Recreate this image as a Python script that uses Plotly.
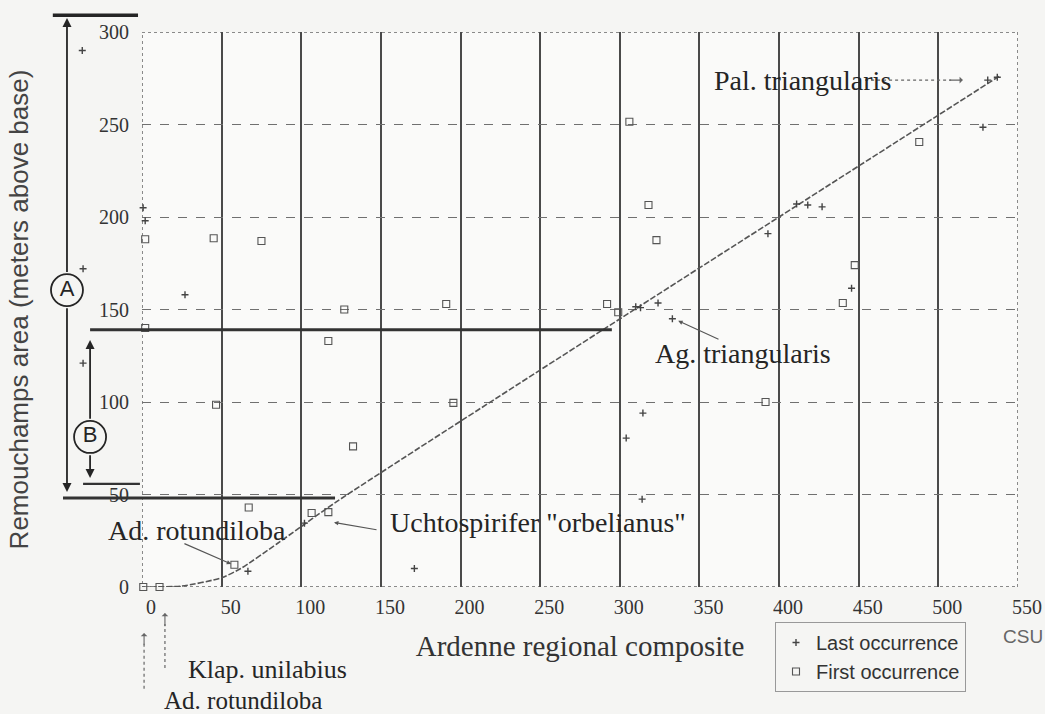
import plotly.graph_objects as go

# Ardenne regional composite (CSU) against Remouchamps section height (m)
first_x = [0.8, 11, 2, 45, 75, 2, 46.5, 58, 67, 106.5, 117, 117, 127, 132.5,
           191, 195.5, 292, 299, 306, 318, 323, 391.5, 440, 447.5, 488]
first_y = [0, 0, 188, 188.5, 187, 140, 98.5, 12, 43, 40, 40.5, 133, 150, 76,
           153, 99.5, 153, 148.5, 251.5, 206.5, 187.5, 100, 153.5, 174, 240.5]

last_x = [-37.5, -37, -37, 0.7, 2, 27, 66.5, 102, 171, 304, 314.5, 314, 310,
          313, 324, 333, 393, 411, 418, 427, 445.5, 528, 531, 537]
last_y = [290, 172, 121, 205, 198, 158, 8.5, 34.5, 10, 80.5, 94, 47.5, 151.5,
          151, 153.5, 145, 191, 207, 206.5, 205.5, 161.5, 248.5, 274, 275.5]

# line of correlation
loc_x = [0, 25, 50, 62, 85, 122, 538]
loc_y = [0, 0.5, 5, 10, 23.5, 46, 276]

x_ticks = [0, 50, 100, 150, 200, 250, 300, 350, 400, 450, 500, 550]
y_ticks = [0, 50, 100, 150, 200, 250, 300]

# section intervals A and B (metres) and the levels tied to the composite
level_top = 309
level_mid = 139
level_low = 48.1
level_b = 55.7

W, H = 1045, 714
ML, MR, MT, MB = 142, 27, 32, 127
XMAX, YMAX = 550, 300
KX = (W - ML - MR) / XMAX
KY = (H - MT - MB) / YMAX

PAPER = "#f5f5f3"
INK = "#252525"
SERIF = "Liberation Serif"
SANS = "Liberation Sans"

# x2/y2 span the whole figure with the same units as x/y, so marks and
# notes beside the frame share the composite/metre scale
X2 = dict(xaxis="x2", yaxis="y2")

fig = go.Figure()

fig.add_trace(go.Scatter(
    x=loc_x, y=loc_y, mode="lines", showlegend=False, hoverinfo="skip",
    line=dict(color="#555", width=1.6, dash="6px,2px", shape="spline", smoothing=0.6),
))

fig.add_trace(go.Scatter(
    x=last_x, y=last_y, mode="markers", name="Last occurrence", **X2,
    marker=dict(symbol="cross-thin", size=5, line=dict(color="#444", width=1.4)),
))
fig.add_trace(go.Scatter(
    x=first_x, y=first_y, mode="markers", name="First occurrence", **X2,
    marker=dict(symbol="square-open", size=7, color="#555", line=dict(color="#555", width=1.1)),
))

# circled interval labels
fig.add_trace(go.Scatter(
    x=[-47.1, -32.6], y=[160.5, 81.1], mode="markers+text", text=["A", "B"], **X2,
    textposition="middle center", showlegend=False, hoverinfo="skip",
    marker=dict(symbol="circle", size=32, color=PAPER, line=dict(color=INK, width=1.8)),
    textfont=dict(family=SANS, size=22, color=INK),
))

D = dict(xref="x2", yref="y2")


def hline(y, x0, x1, color, width, dash="solid"):
    return dict(type="line", x0=x0, x1=x1, y0=y, y1=y,
                line=dict(color=color, width=width, dash=dash), **D)


def vline(x, y0, y1, color, width, dash="solid"):
    return dict(type="line", x0=x, x1=x, y0=y0, y1=y1,
                line=dict(color=color, width=width, dash=dash), **D)


shapes = [
    dict(type="rect", xref="x", yref="y", x0=0, x1=XMAX, y0=0, y1=YMAX,
         fillcolor="#fafaf9", line=dict(color="#666", width=1.5, dash="dot"), layer="below"),
    hline(level_top, -56, -2.5, INK, 3.5),
    hline(level_mid, -32.6, 295, "#333", 3),
    hline(level_low, -49.6, 121.2, "#333", 3),
    hline(level_b, -37, -1.3, "#333", 2.2),
    # dotted pointer lines
    hline(274, 454, 508, "#666", 1.2, "dot"),
    vline(14.4, -43.8, -20, "#666", 1.2, "dot"),
    vline(1.3, -55, -30, "#666", 1.2, "dot"),
]

annotations = []


def arrow(head, tail, color=INK, width=1.8, head_style=2, size=1.0, standoff=0):
    annotations.append(dict(
        x=head[0], y=head[1], ax=tail[0], ay=tail[1], axref="x2", ayref="y2",
        text="", showarrow=True, arrowhead=head_style, arrowsize=size,
        arrowwidth=width, arrowcolor=color, standoff=standoff, startstandoff=0, **D,
    ))


# interval A and B arrows, split around the circles
arrow((-47.1, 307.6), (-47.1, 169.5))
arrow((-47.1, 51.4), (-47.1, 151.5))
arrow((-32.6, 133.5), (-32.6, 90.2))
arrow((-32.6, 58.9), (-32.6, 72.0))

# arrowheads on the dotted pointers
arrow((14.4, -14), (14.4, -22), "#666", 1.1, 1)
arrow((1.3, -24.9), (1.3, -32), "#666", 1.1, 1)
arrow((515.4, 274), (506, 274), "#666", 1.1, 1)

# pointers to individual occurrences
arrow((335.5, 144.3), (362.9, 133.5), "#555", 1.1, 2, 0.8, 2)
arrow((57.1, 12), (25.7, 23.8), "#555", 1.1, 2, 0.8, 2)
arrow((119.3, 35.1), (148.2, 30.8), "#555", 1.1, 2, 0.8, 2)

labels = [
    ("Pal. triangularis", 415, 274, 28),
    ("Ag. triangularis", 377.3, 126, 28),
    ("Ad. rotundiloba", 34.8, 30.8, 28),
    ("Uchtospirifer \"orbelianus\"", 248.6, 34.6, 28),
    ("Klap. unilabius", 78.5, -44.5, 26),
    ("Ad. rotundiloba", 63.4, -61.2, 25),
]
for text, x, y, size in labels:
    annotations.append(dict(
        x=x, y=y, text=text, showarrow=False, xanchor="center", yanchor="middle",
        font=dict(family=SERIF, size=size, color=INK), **D,
    ))

annotations.append(dict(
    x=553, y=-27, text="CSU", showarrow=False, xanchor="center", yanchor="middle",
    font=dict(family=SANS, size=19, color="#666"), **D,
))

fig.update_layout(
    width=W, height=H,
    margin=dict(l=0, r=0, t=0, b=0, autoexpand=False),
    paper_bgcolor=PAPER, plot_bgcolor="rgba(0,0,0,0)",
    shapes=shapes, annotations=annotations,
    legend=dict(
        x=775 / W, y=(H - 622) / H, xanchor="left", yanchor="top",
        bgcolor=PAPER, bordercolor="#999", borderwidth=1, itemwidth=30,
        font=dict(family=SANS, size=20, color="#333"), tracegroupgap=0,
    ),
    xaxis=dict(
        domain=[ML / W, (W - MR) / W], anchor="y",
        range=[0, XMAX], tickvals=x_ticks, ticktext=[str(v) for v in x_ticks],
        showgrid=True, gridcolor="#4a4a4a", gridwidth=1.8, zeroline=False,
        showline=False, ticks="", ticklabelshift=9, ticklabelstandoff=6,
        tickfont=dict(family=SERIF, size=20, color="#333"), automargin=False,
        title=dict(text="Ardenne regional composite", standoff=18,
                   font=dict(family=SERIF, size=29, color="#333")),
    ),
    yaxis=dict(
        domain=[MB / H, (H - MT) / H], anchor="x",
        range=[0, YMAX], tickvals=y_ticks, ticktext=[str(v) for v in y_ticks],
        showgrid=True, gridcolor="#707070", gridwidth=1.4, griddash="dash",
        zeroline=False, showline=False, ticks="", ticklabelstandoff=12,
        tickfont=dict(family=SERIF, size=20, color="#333"), automargin=False,
        title=dict(text="Remouchamps area (meters above base)", standoff=62,
                   font=dict(family=SANS, size=26, color="#444")),
    ),
    xaxis2=dict(domain=[0, 1], anchor="y2", range=[-ML / KX, (W - ML) / KX],
                visible=False, fixedrange=True),
    yaxis2=dict(domain=[0, 1], anchor="x2", range=[-MB / KY, (H - MB) / KY],
                visible=False, fixedrange=True),
)

fig.write_html("out.html")
